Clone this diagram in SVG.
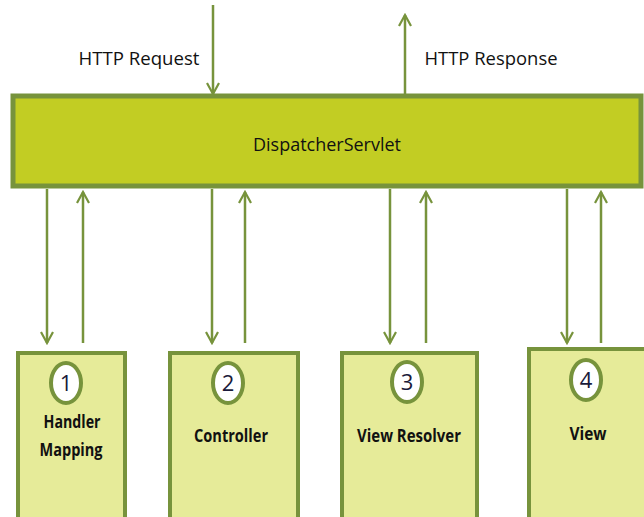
<svg xmlns="http://www.w3.org/2000/svg" width="644" height="517" viewBox="0 0 644 517">
<defs>
<marker id="ah" viewBox="0 0 14 14" refX="12" refY="7" markerWidth="14" markerHeight="14" markerUnits="userSpaceOnUse" orient="auto">
<path d="M1,1 L12,7 L1,13" fill="none" stroke="#77933c" stroke-width="2.2"/>
</marker>
<style>
.conn{stroke:#77933c;stroke-width:2.5;fill:none;marker-end:url(#ah)}
.box{fill:#e6eb99;stroke:#77933c;stroke-width:4}
.num{fill:#fff;stroke:#77933c;stroke-width:4}
.t{font-family:"Open Sans","Liberation Sans",sans-serif;fill:#111}
.lbl{font-size:17px;font-weight:bold;text-anchor:middle}
.n{font-size:22px;text-anchor:middle;fill:#1a1a3a}
</style>
</defs>
<rect width="644" height="517" fill="#fff"/>
<g id="connectors">
<line class="conn" x1="213" y1="5" x2="213" y2="94"/>
<line class="conn" x1="405" y1="95" x2="405" y2="15"/>
<line class="conn" x1="47" y1="189" x2="47" y2="343"/>
<line class="conn" x1="83" y1="343" x2="83" y2="192"/>
<line class="conn" x1="212" y1="189" x2="212" y2="343"/>
<line class="conn" x1="245" y1="343" x2="245" y2="192"/>
<line class="conn" x1="390" y1="189" x2="390" y2="343"/>
<line class="conn" x1="426" y1="343" x2="426" y2="192"/>
<line class="conn" x1="567" y1="189" x2="567" y2="343"/>
<line class="conn" x1="601" y1="343" x2="601" y2="192"/>
</g>
<text class="t" x="139" y="65" font-size="19" text-anchor="middle" textLength="121" lengthAdjust="spacingAndGlyphs">HTTP Request</text>
<text class="t" x="491" y="65" font-size="19" text-anchor="middle" textLength="133" lengthAdjust="spacingAndGlyphs">HTTP Response</text>
<g id="dispatcher">
<rect x="13" y="96" width="628" height="90" fill="#c2cd23" stroke="#77933c" stroke-width="5"/>
<text class="t" x="327" y="151" font-size="19" text-anchor="middle" textLength="148" lengthAdjust="spacingAndGlyphs">DispatcherServlet</text>
</g>
<g id="handler-mapping">
<rect class="box" x="18" y="353" width="107" height="170"/>
<ellipse class="num" cx="66" cy="383" rx="15" ry="20"/>
<text class="t n" x="66" y="391">1</text>
<text class="t lbl" x="72" y="428" textLength="57" lengthAdjust="spacingAndGlyphs">Handler</text>
<text class="t lbl" x="71" y="456" textLength="63" lengthAdjust="spacingAndGlyphs">Mapping</text>
</g>
<g id="controller">
<rect class="box" x="170" y="353" width="128" height="170"/>
<ellipse class="num" cx="228" cy="383" rx="15" ry="20"/>
<text class="t n" x="228" y="391">2</text>
<text class="t lbl" x="231" y="442" textLength="74" lengthAdjust="spacingAndGlyphs">Controller</text>
</g>
<g id="view-resolver">
<rect class="box" x="342" y="353" width="135" height="170"/>
<ellipse class="num" cx="407" cy="382" rx="15" ry="20"/>
<text class="t n" x="407" y="390">3</text>
<text class="t lbl" x="409" y="442" textLength="104" lengthAdjust="spacingAndGlyphs">View Resolver</text>
</g>
<g id="view">
<rect class="box" x="529" y="349" width="120" height="174"/>
<ellipse class="num" cx="586" cy="380" rx="15" ry="20"/>
<text class="t n" x="586" y="388">4</text>
<text class="t lbl" x="588" y="440" textLength="37" lengthAdjust="spacingAndGlyphs">View</text>
</g>
</svg>
